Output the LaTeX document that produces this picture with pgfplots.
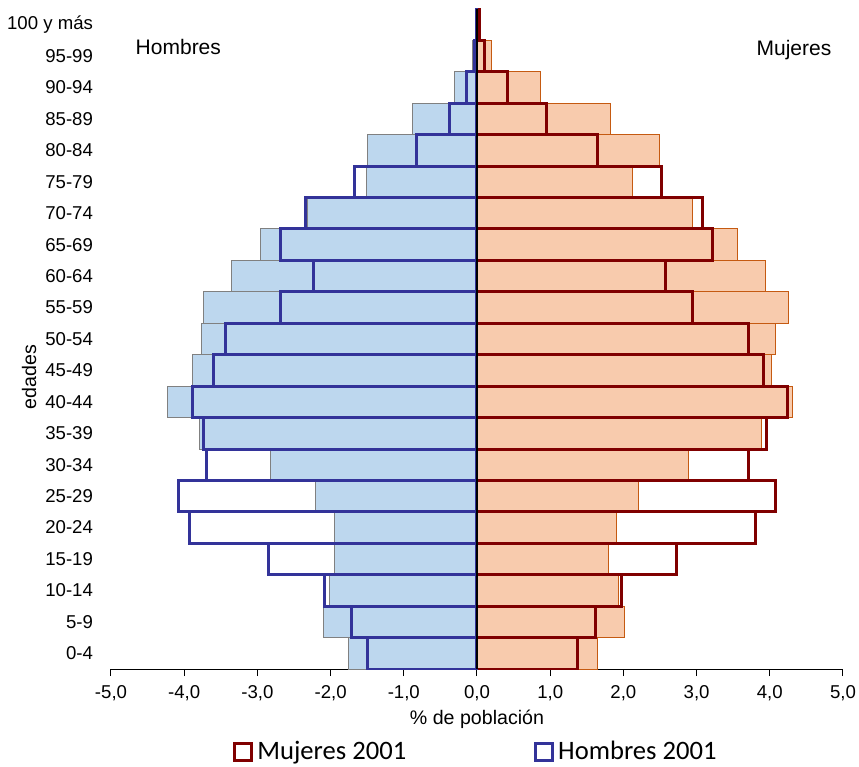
\documentclass[border=0pt]{standalone}
\usepackage{pgfplots}
\pgfplotsset{compat=1.18}
\usepackage{pgfplotstable}
\usepackage{fontspec}
\setmainfont{Liberation Sans}
\newfontfamily\carlito{Carlito}
\definecolor{hfill}{RGB}{189,215,238}
\definecolor{hedge}{RGB}{128,128,128}
\definecolor{mfill}{RGB}{248,203,173}
\definecolor{medge}{RGB}{197,90,17}
\definecolor{hline}{RGB}{51,51,153}
\definecolor{mline}{RGB}{128,0,0}

\pgfplotstableread{
idx hfill hline mfill mline
0  -1.76 -1.49 1.64 1.37
1  -2.10 -1.71 2.02 1.62
2  -2.02 -2.09 1.93 1.98
3  -1.94 -2.85 1.79 2.73
4  -1.95 -3.93 1.90 3.80
5  -2.21 -4.08 2.21 4.08
6  -2.82 -3.70 2.89 3.71
7  -3.79 -3.74 3.88 3.96
8  -4.23 -3.88 4.31 4.24
9  -3.89 -3.60 4.03 3.92
10 -3.76 -3.43 4.08 3.71
11 -3.73 -2.69 4.25 2.95
12 -3.35 -2.23 3.94 2.57
13 -2.96 -2.69 3.56 3.22
14 -2.32 -2.34 2.95 3.08
15 -1.51 -1.67 2.12 2.52
16 -1.50 -0.82 2.49 1.64
17 -0.88 -0.38 1.82 0.95
18 -0.31 -0.14 0.87 0.41
19 -0.06 -0.04 0.20 0.10
20 -0.02 -0.01 0.04 0.03
}\datatable

\begin{document}
\begin{tikzpicture}
\begin{axis}[
  scale only axis,
  width=366pt, height=330pt,
  xbar, bar width=1, /pgf/bar shift=0pt,
  xmin=-5, xmax=5, ymin=-0.5, ymax=20.5,
  axis x line*=bottom, axis y line*=left,
  y axis line style={draw=none},
  ytick={0,...,20},
  yticklabels={0-4,5-9,10-14,15-19,20-24,25-29,30-34,35-39,40-44,45-49,50-54,55-59,60-64,65-69,70-74,75-79,80-84,85-89,90-94,95-99,100 y más},
  ytick style={draw=none},
  yticklabel style={font=\fontsize{9.3}{11}\selectfont, xshift=-2pt},
  xtick={-5,-4,...,5},
  tick align=outside,
  major tick length=3.5pt,
  xtick style={black, line width=0.5pt},
  xticklabel style={font=\fontsize{9.3}{11}\selectfont, yshift=-1pt},
  /pgf/number format/assume math mode=true,
  xticklabel={\pgfmathprintnumber[fixed, fixed zerofill, precision=1, use comma]{\tick}},
  xlabel={\% de población},
  xlabel style={font=\fontsize{9.8}{12}\selectfont, yshift=2pt},
  ylabel={edades},
  ylabel style={font=\fontsize{9.8}{12}\selectfont, at={(axis description cs:-0.112,0.442)}, anchor=center},
  axis line style={black, line width=0.5pt},
  legend style={at={(axis description cs:0.5,-0.1258)}, anchor=center, draw=none, fill=none,
    legend columns=2, font=\fontsize{13.3}{15}\carlito,
    /tikz/every even column/.append style={column sep=62pt}},
  legend image code/.code={\draw[#1, line width=1.5pt, fill=white] (0pt,-4.2pt) rectangle (8.5pt,4.2pt);},
]
\addplot[fill=hfill, draw=hedge, line width=0.5pt, forget plot] table[x=hfill, y=idx] {\datatable};
\addplot[fill=mfill, draw=medge, line width=0.5pt, forget plot] table[x=mfill, y=idx] {\datatable};
\addplot[draw=mline, fill=none, line width=1.5pt] table[x=mline, y=idx] {\datatable};
\addlegendentry{Mujeres 2001}
\addplot[draw=hline, fill=none, line width=1.5pt] table[x=hline, y=idx] {\datatable};
\addlegendentry{Hombres 2001}
\draw[black, line width=1pt] (axis cs:0,-0.5) -- (axis cs:0,20.5);
\node[font=\fontsize{10.5}{12}\selectfont] at (axis cs:-4.08,19.3) {Hombres};
\node[font=\fontsize{10.5}{12}\selectfont] at (axis cs:4.33,19.2) {Mujeres};
\coordinate (O) at (rel axis cs:0,0);
\end{axis}
\pgfresetboundingbox
\path ([shift={(-55.5pt,-49pt)}]O) rectangle ([shift={(374pt,334.5pt)}]O);
\end{tikzpicture}
\end{document}
